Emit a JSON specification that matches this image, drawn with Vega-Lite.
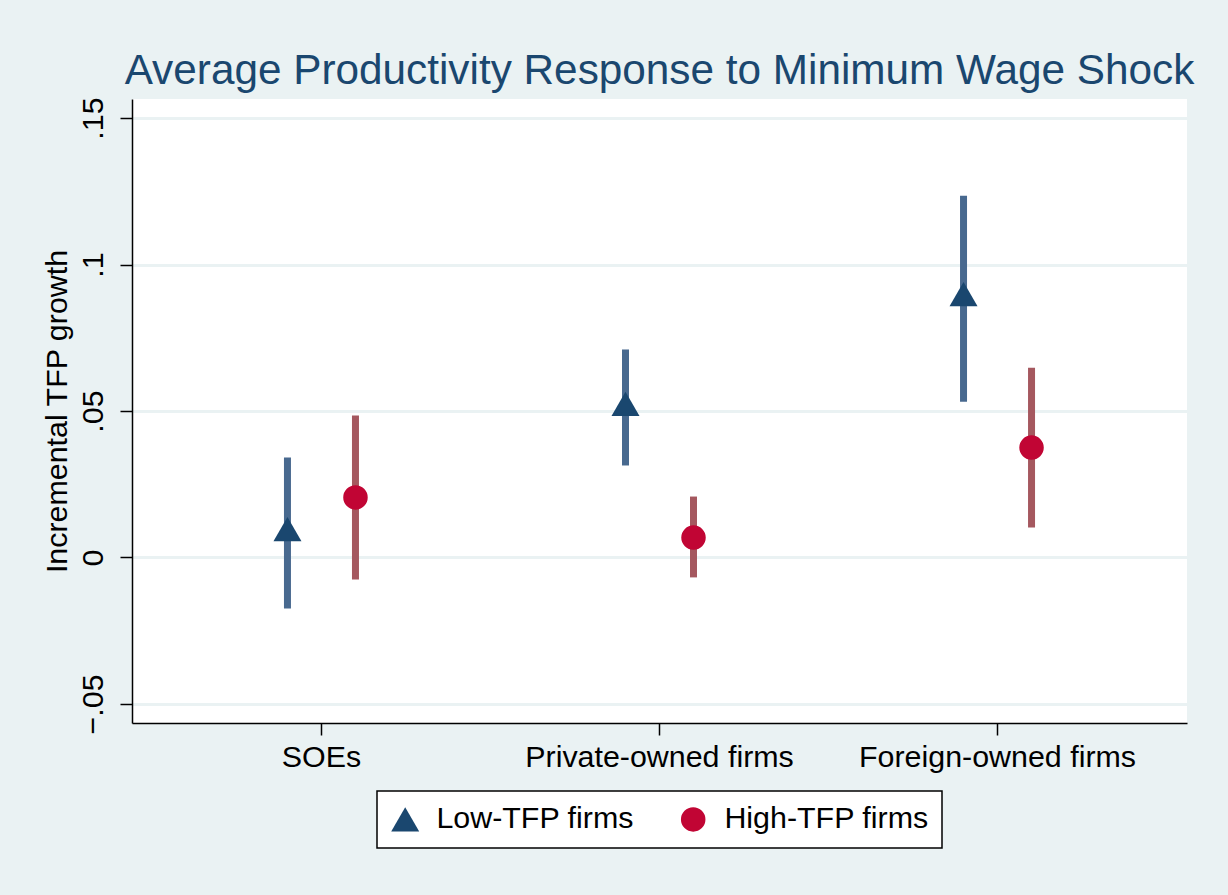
{
  "$schema": "https://vega.github.io/schema/vega-lite/v6.json",
  "width": 1055,
  "height": 624,
  "autosize": {"type": "none"},
  "padding": {"left": 132, "top": 99, "right": 41, "bottom": 172},
  "background": "#EAF2F3",
  "title": {
    "text": "Average Productivity Response to Minimum Wage Shock",
    "fontSize": 42.3,
    "font": "Liberation Sans",
    "fontWeight": "normal",
    "color": "#1a476f",
    "anchor": "middle",
    "frame": "group",
    "offset": 4
  },
  "config": {
    "view": {"fill": "white", "stroke": null},
    "axis": {
      "labelFont": "Liberation Sans",
      "titleFont": "Liberation Sans",
      "labelColor": "black",
      "titleColor": "black",
      "labelFontSize": 30.4,
      "titleFontSize": 30.4,
      "titleFontWeight": "normal",
      "labelLimit": 500,
      "domainColor": "black",
      "domainWidth": 1.5,
      "tickColor": "black",
      "tickWidth": 1.5,
      "tickSize": 12
    },
    "legend": {
      "labelFont": "Liberation Sans",
      "labelFontSize": 30.4,
      "labelColor": "black",
      "labelLimit": 500,
      "padding": 13,
      "strokeColor": "black",
      "strokeWidth": 1.5,
      "fillColor": "white",
      "columnPadding": 44,
      "labelOffset": 16,
      "symbolStrokeWidth": 0,
      "layout": {"bottom": {"anchor": "middle"}}
    }
  },
  "data": {
    "values": [
      {"sector": "SOEs", "group": "Low-TFP firms", "est": 0.0097, "lo": -0.0174, "hi": 0.0341},
      {"sector": "SOEs", "group": "High-TFP firms", "est": 0.0205, "lo": -0.0075, "hi": 0.0485},
      {"sector": "Private-owned firms", "group": "Low-TFP firms", "est": 0.0524, "lo": 0.0314, "hi": 0.0710},
      {"sector": "Private-owned firms", "group": "High-TFP firms", "est": 0.0068, "lo": -0.0068, "hi": 0.0208},
      {"sector": "Foreign-owned firms", "group": "Low-TFP firms", "est": 0.0899, "lo": 0.0532, "hi": 0.1235},
      {"sector": "Foreign-owned firms", "group": "High-TFP firms", "est": 0.0375, "lo": 0.0102, "hi": 0.0648}
    ]
  },
  "encoding": {
    "x": {
      "field": "sector",
      "type": "nominal",
      "sort": ["SOEs", "Private-owned firms", "Foreign-owned firms"],
      "scale": {"paddingInner": 0.3964, "paddingOuter": 0.2587},
      "axis": {"title": null, "labelAngle": 0, "labelPadding": 7, "grid": false}
    },
    "xOffset": {
      "field": "group",
      "type": "nominal",
      "sort": ["Low-TFP firms", "High-TFP firms"],
      "scale": {"paddingInner": 0, "paddingOuter": 0.5}
    },
    "y": {
      "field": "lo",
      "type": "quantitative",
      "scale": {"domain": [-0.0565, 0.1565], "nice": false, "zero": false},
      "axis": {
        "title": "Incremental TFP growth",
        "values": [-0.05, 0, 0.05, 0.1, 0.15],
        "labelExpr": "replace(format(datum.value, '.2~f'), '0.', '.')",
        "labelAngle": -90,
        "labelAlign": "center",
        "labelBaseline": "bottom",
        "labelPadding": 12,
        "titlePadding": 6,
        "grid": true,
        "gridColor": "#EAF2F3",
        "gridWidth": 3
      }
    }
  },
  "layer": [
    {
      "transform": [{"filter": "datum.group === 'Low-TFP firms'"}],
      "mark": {"type": "rule", "strokeWidth": 7, "color": "#48698f"},
      "encoding": {"y2": {"field": "hi"}}
    },
    {
      "transform": [{"filter": "datum.group === 'High-TFP firms'"}],
      "mark": {"type": "rule", "strokeWidth": 7, "color": "#a5585f"},
      "encoding": {"y2": {"field": "hi"}}
    },
    {
      "mark": {"type": "point", "filled": true, "opacity": 1, "strokeWidth": 0},
      "encoding": {
        "y": {"field": "est", "type": "quantitative"},
        "fill": {
          "field": "group",
          "type": "nominal",
          "scale": {"domain": ["Low-TFP firms", "High-TFP firms"], "range": ["#1a476f", "#c10534"]},
          "legend": {"title": null, "orient": "bottom", "direction": "horizontal", "offset": 18}
        },
        "shape": {
          "field": "group",
          "type": "nominal",
          "scale": {"domain": ["Low-TFP firms", "High-TFP firms"], "range": ["triangle-up", "circle"]},
          "legend": {"title": null, "orient": "bottom", "direction": "horizontal", "offset": 18}
        },
        "size": {
          "field": "group",
          "type": "nominal",
          "scale": {"type": "ordinal", "domain": ["Low-TFP firms", "High-TFP firms"], "range": [784, 600]},
          "legend": {"title": null, "orient": "bottom", "direction": "horizontal", "offset": 18}
        }
      }
    }
  ]
}
